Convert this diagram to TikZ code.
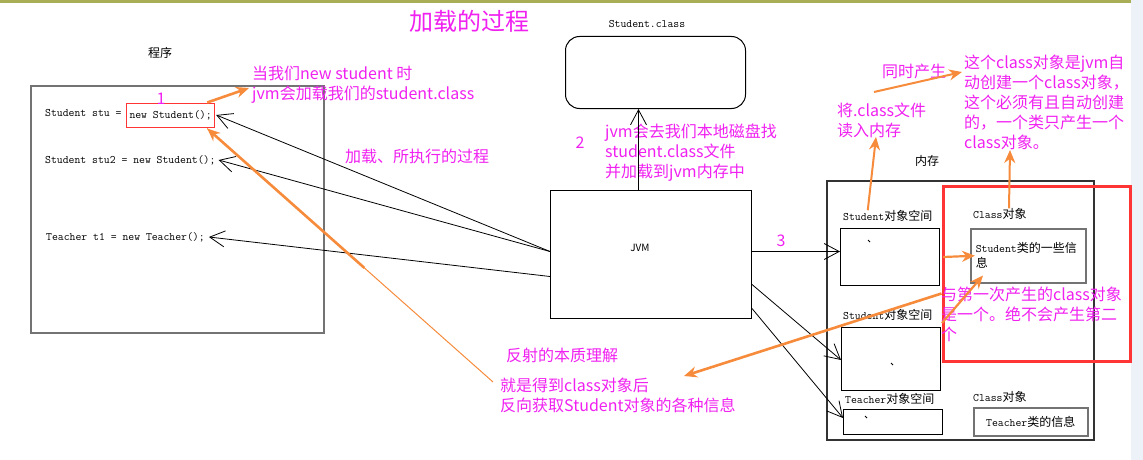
\documentclass[tikz,border=0pt]{standalone}
\usepackage{fontspec}
\setmainfont{Noto Sans CJK SC}
\usetikzlibrary{arrows.meta,calc}
\definecolor{mag}{HTML}{F020F0}
\definecolor{org}{HTML}{F68B3C}
\definecolor{redb}{HTML}{FF3535}
\definecolor{olivel}{HTML}{A9AD55}
\definecolor{stripe}{HTML}{EDF1F8}
\newcommand{\codefont}{\ttfamily\fontsize{11.4}{14}\selectfont}
\tikzset{
  mtext/.style={text=mag, font=\fontsize{16}{20}\selectfont, inner sep=0, align=left, anchor=north west},
  mnum/.style={text=mag, font=\fontsize{16}{20}\selectfont, inner sep=0},
  btext/.style={text=black, font=\fontsize{12}{15}\selectfont, inner sep=0},
  codetext/.style={text=black, font=\codefont, inner sep=0},
  boxn/.style={draw=black, line width=1pt, inner sep=0, anchor=north west},
  openarr/.style={draw=black, line width=0.8pt, -{Straight Barb[length=15pt,width=16pt]}},
  orarr/.style={draw=org, line width=2.6pt, -{Stealth[length=13pt,width=11pt]}},
  orthin/.style={draw=org, line width=1pt},
}
\begin{document}
\begin{tikzpicture}[x=1pt,y=-1pt]
\useasboundingbox (0,0) rectangle (1143,460);
\fill[stripe] (1131,0) rectangle (1143,460);
\draw[olivel, line width=2.5pt] (0,1.5) -- (1131,1.5);

% title
\node[text=mag, font=\fontsize{24}{28}\selectfont, inner sep=0, anchor=west] (title) at (409,21) {加载的过程};

% program
\node[btext] (prog) at (160,53) {程序};
\node[boxn, draw=gray!90!black, line width=1.5pt, minimum width=293pt, minimum height=247pt] (progbox) at (30,85) {};
\node[codetext, anchor=west] (stu1) at (45,113) {Student stu =};
\node[codetext, draw=redb, line width=1pt, inner xsep=3pt, inner ysep=0pt, minimum height=24pt, anchor=west] (newstu) at (126,115) {new Student();};
\node[codetext, anchor=west] (stu2) at (45,160) {Student stu2 = new Student();};
\node[codetext, anchor=west] (t1) at (46,237) {Teacher t1 = new Teacher();};

% Student.class
\node[codetext] (sclbl) at (647,24) {Student.class};
\node[boxn, rounded corners=14pt, minimum width=180pt, minimum height=72pt] (sclass) at (565,36) {};

% JVM
\node[boxn, minimum width=201pt, minimum height=128pt] (jvm) at (550,190) {};
\node[font=\fontsize{10}{12}\selectfont, inner sep=0] (jvmlbl) at (640,248) {JVM};

% memory
\node[btext] (memlbl) at (927,161) {内存};
\node[boxn, draw=black!80, line width=1.5pt, minimum width=267pt, minimum height=259pt] (mem) at (826,180) {};

\node[btext, anchor=west] (so1lbl) at (843,216) {{\codefont Student}对象空间};
\node[boxn, minimum width=99pt, minimum height=57pt] (so1) at (840,228) {};
\node[btext, anchor=west] (so2lbl) at (843,315) {{\codefont Student}对象空间};
\node[boxn, minimum width=99pt, minimum height=63pt] (so2) at (841,327) {};
\node[btext, anchor=west] (tolbl) at (845,399) {{\codefont Teacher}对象空间};
\node[boxn, minimum width=99pt, minimum height=25pt] (tobj) at (843,409) {};

\node[btext, anchor=west] (c1lbl) at (973,214) {{\codefont Class}对象};
\node[boxn, draw=gray!90!black, line width=1.5pt, minimum width=115pt, minimum height=54pt, text width=105pt, align=left, inner xsep=5pt, font=\fontsize{12}{15}\selectfont] (classbox) at (970,228) {{\codefont Student}类的一些信\\息};
\node[btext, anchor=west] (c2lbl) at (973,397) {{\codefont Class}对象};
\node[boxn, draw=gray!90!black, line width=1.5pt, minimum width=114pt, minimum height=28pt, font=\fontsize{12}{15}\selectfont] (tclass) at (973,407) {{\codefont Teacher}类的信息};

% small ticks
\draw[line width=0.8pt] (868,240) -- (870,242);
\draw[line width=0.8pt] (891,363) -- (893,365);
\draw[line width=0.8pt] (865,416) -- (867,418);

% red box
\node[boxn, draw=redb, line width=3pt, minimum width=187pt, minimum height=175pt] (redbox) at (941.5,184.5) {};

% magenta texts
\node[mtext] (m1) at (252,66) {当我们new student 时\\jvm会加载我们的student.class};
\node[mnum] (n1) at (161,99) {1};
\node[mtext] (m3) at (345,149) {加载、所执行的过程};
\node[mnum] (n2) at (580,143) {2};
\node[mtext] (m5) at (605,124) {jvm会去我们本地磁盘找\\student.class文件\\并加载到jvm内存中};
\node[mnum] (n3) at (781,241) {3};
\node[mtext] (m7) at (837,103) {将.class文件\\读入内存};
\node[mtext] (m8) at (882,64) {同时产生};
\node[mtext] (m9) at (964,55) {这个class对象是jvm自\\动创建一个class对象，\\这个必须有且自动创建\\的，一个类只产生一个\\class对象。};
\node[mtext] (m10) at (941,287) {与第一次产生的class对象\\是一个。绝不会产生第二\\个};
\node[mtext] (m11) at (506,348) {反射的本质理解};
\node[mtext] (m12) at (500,378) {就是得到class对象后\\反向获取Student对象的各种信息};

% black connectors
\draw[openarr] ([yshift=3pt]jvm.west) -- ([xshift=1pt]newstu.east);
\draw[openarr] ([yshift=3pt]jvm.west) -- ([xshift=3pt]stu2.east);
\draw[openarr] ([yshift=-22pt]jvm.west) -- ([xshift=4pt]t1.east);
\draw[openarr] ([xshift=-12.5pt]jvm.north) -- ([xshift=-12.5pt]jvm.north |- sclass.south);
\draw[openarr] ([yshift=3pt]jvm.east) -- ([yshift=3pt]jvm.east -| so1.west);
\draw[openarr] ([yshift=-30pt]jvm.east) -- ([yshift=-1pt]so2.west);
\draw[openarr] ([yshift=-54pt]jvm.east) -- ([yshift=4pt]tobj.west);

% orange connectors
\coordinate (o1tip) at (249,88);
\coordinate (o2tail) at (493,382);
\coordinate (o3tip) at (684,376);
\coordinate (o4tail) at (942,323);
\coordinate (o6tip) at (876,137);
\coordinate (o7tail) at (874,92);
\coordinate (o7tip) at (962,72);
\coordinate (o8tip) at (1010,150);

\draw[orarr] ([xshift=-8pt]newstu.north east) -- (o1tip);
\draw[orthin] (o2tail) -- ([xshift=-8pt,yshift=-1pt]newstu.south east);
\draw[orarr] ($(o2tail)!0.45!([xshift=-8pt,yshift=-1pt]newstu.south east)$) -- ([xshift=-8pt,yshift=-1pt]newstu.south east);
\draw[orarr] ([yshift=-20pt]redbox.west) -- (o3tip);
\draw[orarr, line width=2.2pt] (o4tail) -- ([xshift=13pt,yshift=8pt]classbox.south west);
\draw[orarr, line width=2.2pt] ([xshift=3pt]so1.east) -- ([xshift=5pt]classbox.west);
\draw[orarr, line width=2pt] ([xshift=-20pt]so1lbl.north) -- (o6tip);
\draw[orarr, line width=2pt] (o7tail) -- (o7tip);
\draw[orarr, line width=2pt] ([xshift=36pt]c1lbl.north west) -- (o8tip);
\end{tikzpicture}
\end{document}
